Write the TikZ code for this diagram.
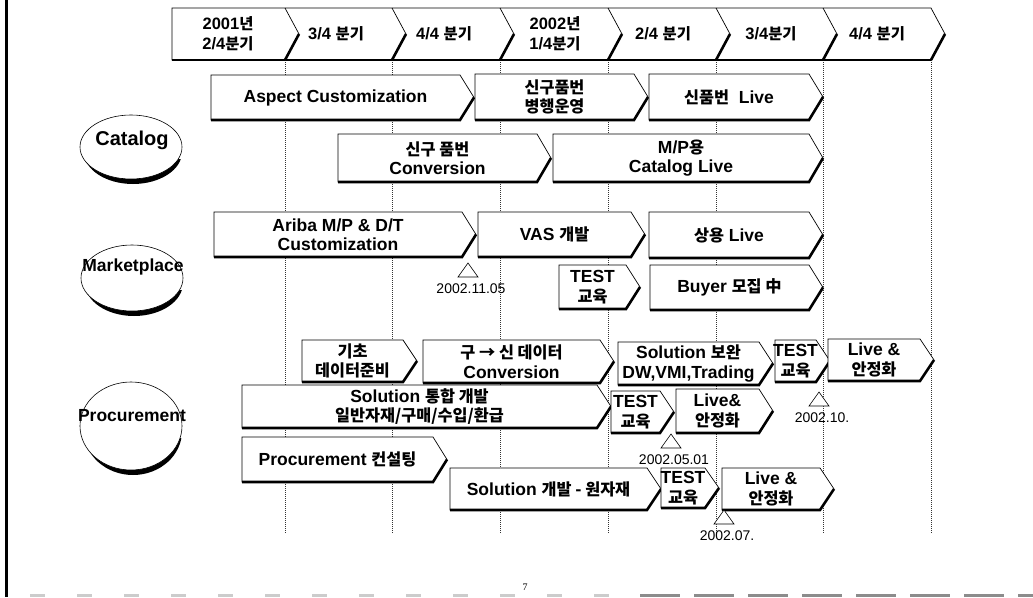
\documentclass[tikz,border=0pt]{standalone}
\usepackage{fontspec}
\setmainfont{Liberation Sans}
\newfontfamily\hangul{Noto Sans CJK KR}[Scale=0.93,UprightFont=* Bold]
\newfontfamily\pageserif{Liberation Serif}
\usetikzlibrary{calc}
\def\tipd{14}
% task bar: name, left, tip, top, bottom, text
\newcommand{\taskbar}[6]{%
  \draw[barbody] (#2,#4) -- (#3-\tipd,#4) -- (#3,{(#4+#5)/2}) -- (#3-\tipd,#5) -- (#2,#5) -- cycle;
  \draw[barshade] (#2,#5) -- (#3-\tipd,#5) -- (#3,{(#4+#5)/2});
  \node[barlabel] (#1) at ({(#2+#3-\tipd)/2},{(#4+#5)/2}) {#6};}
% milestone: name, x, apex y, date
\newcommand{\milestone}[4]{%
  \draw[fill=white,line width=0.6pt] (#2,#3) -- (#2+10,#3+14) -- (#2-10,#3+14) -- cycle;
  \node[datelabel] (#1) at (#2+3,#3+26) {#4};}
% area circle: name, cx, cy, ry, label offset, label
\newcommand{\areacircle}[6]{%
  \begin{scope}
    \clip (#2-60,#3+12) rectangle (#2+60,#3+#4+10);
    \fill[black] (#2+2,#3+5) ellipse [x radius=49, y radius=#4];
  \end{scope}
  \draw[fill=white,line width=0.6pt] (#2,#3) ellipse [x radius=51, y radius=#4];
  \node[arealabel] (#1) at (#2+1,#3-#5) {#6};}

\begin{document}
\begin{tikzpicture}[x=1pt,y=-1pt,
  barbody/.style={fill=white,draw=black,line width=0.7pt,line join=miter},
  barshade/.style={line width=2.6pt,line join=miter},
  barlabel/.style={font=\bfseries\fontsize{17.5}{19.5}\selectfont,align=center,inner sep=0pt},
  datelabel/.style={font=\fontsize{14}{16}\selectfont,inner sep=0pt},
  arealabel/.style={font=\bfseries\fontsize{17.5}{19}\selectfont,inner sep=0pt},
  gridline/.style={line width=0.7pt,black!80,dash pattern=on 1pt off 1pt}]
  \useasboundingbox (0,0) rectangle (1033,597);
  \fill[white] (0,0) rectangle (1033,597);
  % frame
  \draw[line width=2.5pt] (6.5,0) -- (6.5,597);
  \draw[black!20,line width=3pt,dash pattern=on 15pt off 32pt] (30,595.5) -- (640,595.5);
  \draw[black!45,line width=2.5pt,dash pattern=on 40pt off 14pt] (640,595.5) -- (1033,595.5);
  \node[font=\pageserif\fontsize{10}{12}\selectfont] (pg) at (525,587) {7};
  % quarter grid
  \foreach \x in {285,392,500,608,716,823,931} \draw[gridline] (\x,60) -- (\x,534);
  % header
  \draw[barbody] (172,8) -- (931,8) -- (945,34) -- (931,60) -- (172,60) -- cycle;
  \foreach \x in {285,392,500,608,716,823} \draw[line width=0.7pt] (\x,8) -- (\x+14,34) -- (\x,60);
  \foreach \x in {285,392,500,608,716,823,931} \draw[barshade] (\x+14,34) -- (\x,60);
  \draw[barshade] (172,60) -- (931,60);
  \tikzset{every node/.append style={font=\bfseries\fontsize{16.5}{20}\selectfont,align=center,inner sep=0pt}}
  \node (q1) at (228,34) {2001{\hangul 년}\\2/4{\hangul 분기}};
  \node (q2) at (336,34) {3/4 {\hangul 분기}};
  \node (q3) at (444,34) {4/4 {\hangul 분기}};
  \node (q4) at (555,34) {2002{\hangul 년}\\1/4{\hangul 분기}};
  \node (q5) at (663,34) {2/4 {\hangul 분기}};
  \node (q6) at (771,34) {3/4{\hangul 분기}};
  \node (q7) at (877,34) {4/4 {\hangul 분기}};
  \tikzset{every node/.style={}}
  % areas
  \areacircle{catalog}{131}{147}{32}{7}{\fontsize{20}{22}\selectfont Catalog}
  \areacircle{market}{132}{278}{33}{11}{Marketplace}
  \areacircle{procure}{131}{426}{44}{10}{Procurement}
  % Catalog
  \taskbar{aspect}{211}{474}{75}{120}{Aspect Customization}
  \taskbar{parallel}{475}{648}{74}{120}{{\hangul 신구품번}\\{\hangul 병행운영}}
  \taskbar{newlive}{649}{823}{74}{120}{{\hangul 신품번}~~Live}
  \taskbar{conv}{338}{551}{134}{182}{{\hangul 신구 품번}\\Conversion}
  \taskbar{mpcat}{553}{823}{134}{182}{M/P{\hangul 용}\\Catalog Live}
  % Marketplace
  \taskbar{ariba}{214}{476}{212}{257}{Ariba M/P \& D/T\\Customization}
  \taskbar{vas}{478}{645}{212}{257}{VAS {\hangul 개발}}
  \taskbar{mlive}{649}{823}{212}{258}{{\hangul 상용} Live}
  \taskbar{mtest}{559}{640}{265}{309}{TEST\\{\hangul 교육}}
  \taskbar{buyer}{650}{823}{265}{310}{Buyer {\hangul 모집 中}}
  \milestone{ms1}{468}{263}{2002.11.05}
  % Procurement
  \taskbar{basic}{302}{417}{340}{382}{{\hangul 기초}\\{\hangul 데이터준비}}
  \taskbar{convert}{423}{614}{340}{383}{{\hangul 구 → 신 데이터}\\Conversion}
  \taskbar{improve}{618}{773}{342}{385}{Solution {\hangul 보완}\\DW,VMI,Trading}
  \taskbar{ptesta}{775}{830}{340}{382}{TEST\\{\hangul 교육}}
  \taskbar{plivea}{828}{934}{339}{381}{Live \&\\{\hangul 안정화}}
  \milestone{ms2}{819}{392}{2002.10.}
  \taskbar{integ}{242}{611}{385}{428}{Solution {\hangul 통합 개발}\\{\hangul 일반자재/구매/수입/환급}}
  \taskbar{ptestb}{611}{674}{391}{433}{TEST\\{\hangul 교육}}
  \taskbar{pliveb}{676}{773}{389}{433}{Live\&\\{\hangul 안정화}}
  \milestone{ms3}{671}{434}{2002.05.01}
  \taskbar{consult}{242}{447}{437}{482}{Procurement {\hangul 컨설팅}}
  \taskbar{rawdev}{450}{661}{468}{510}{Solution {\hangul 개발 - 원자재}}
  \taskbar{ptestc}{661}{719}{468}{508}{TEST\\{\hangul 교육}}
  \taskbar{plivec}{722}{834}{468}{510}{Live \&\\{\hangul 안정화}}
  \milestone{ms4}{724}{510}{2002.07.}
\end{tikzpicture}
\end{document}
